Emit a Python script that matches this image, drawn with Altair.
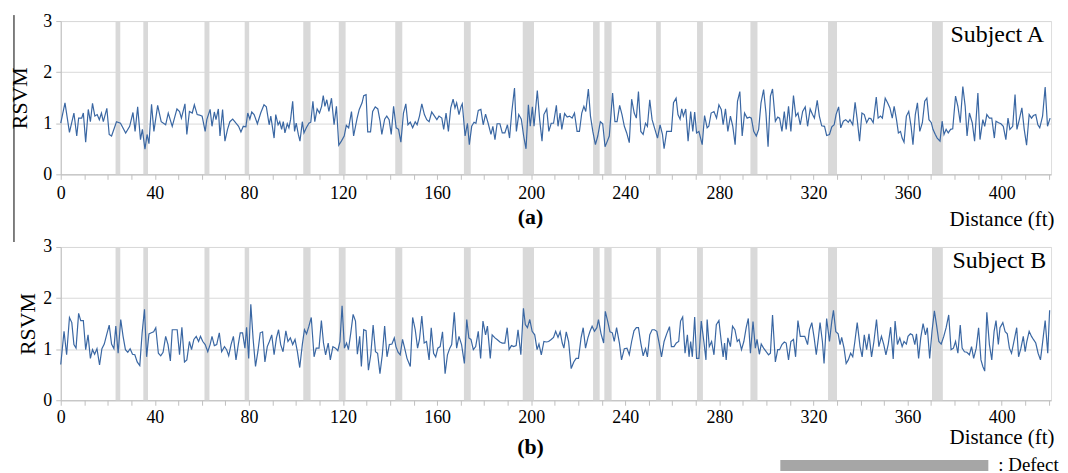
import altair as alt
import pandas as pd

# ---------------- data ----------------
# Subject A : distance (ft) and RSVM
a_x1 = [0, 1.8, 3.7, 5.6, 6.8, 7.6, 8.9, 9.6, 10.6, 11.7,
        12.6, 13.5, 14.5, 15.5, 16.4, 17.3, 18.1, 19.6, 20.6, 21.6,
        23.7, 25.4, 27.6, 29.3, 30.7, 31.6, 32.7, 33.9, 34.7, 35.8,
        36.7, 37.5, 38.6, 39.6, 41.2, 42.7, 44.6, 45.7, 47.4, 49.4,
        50.5, 51.3, 52.8, 53.6, 54.7, 55.9, 56.8, 58.0, 59.0, 60.1,
        61.4, 62.1, 63.5, 64.3, 65.3, 66.0, 67.0, 67.7, 68.8, 69.8,
        70.9, 71.9, 73.1, 74.5, 75.6, 76.6, 77.6, 78.7, 79.5, 80.4,
        81.2, 82.2, 83.6, 85.0, 86.4, 87.4, 88.6, 89.3, 90.7, 91.4,
        92.4, 93.1, 93.9, 94.6, 95.3, 96.3, 97.0, 97.7, 98.6, 99.4,
        100.1, 101.0, 101.7, 102.7, 103.4, 104.4, 105.5, 106.3, 107.2, 108.0,
        109.0, 110.0, 110.9, 111.6, 112.3, 113.1, 114.0, 115.1, 116.2, 117.2,
        118.2, 119.3, 120.5, 121.4, 122.4, 123.6, 124.5, 126.0, 126.9, 128.1,
        128.8, 129.8, 130.5, 131.7, 132.6, 133.7, 134.8, 135.8, 136.5, 137.7,
        138.6, 139.6, 140.5, 141.5]
a_y1 = [1.0, 1.4, 0.82, 1.2, 0.75, 1.1, 1.1, 1.2, 0.63, 1.27,
        1.03, 1.39, 1.14, 1.17, 1.07, 1.2, 1.03, 1.29, 0.78, 0.75,
        1.03, 1.0, 0.81, 0.94, 1.21, 0.84, 1.32, 0.68, 0.88, 0.49,
        0.78, 0.6, 1.37, 0.84, 1.35, 1.03, 0.97, 1.2, 0.94, 1.28,
        1.23, 1.1, 1.38, 0.78, 1.23, 1.2, 1.36, 1.17, 1.16, 1.14,
        0.84, 1.07, 1.27, 0.94, 1.22, 1.07, 1.28, 0.75, 1.27, 0.65,
        0.88, 1.03, 1.08, 1.0, 0.94, 0.83, 0.94, 0.93, 1.2, 1.08,
        1.22, 1.17, 0.99, 1.2, 1.36, 1.32, 0.97, 1.14, 0.71, 1.17,
        0.97, 1.03, 0.88, 1.03, 0.81, 0.99, 0.91, 1.07, 1.43, 0.84,
        1.0, 0.78, 0.65, 1.03, 0.81, 0.91, 1.0, 1.02, 1.43, 1.03,
        1.28, 1.2, 1.33, 1.54, 1.33, 1.46, 1.23, 1.49, 0.97, 1.33,
        0.57, 0.65, 0.75, 0.96, 0.91, 1.23, 0.75, 1.1, 1.27, 1.4,
        1.54, 1.56, 0.83, 0.83, 1.23, 1.32, 1.28, 1.03, 0.78, 1.08,
        1.14, 1.07, 0.78, 1.33]

a_x2 = [142.6, 143.6, 144.6, 145.7, 146.7, 147.6, 148.6, 149.6, 150.7, 151.5,
        152.5, 153.5, 154.6, 155.6, 156.6, 157.7, 158.9, 159.9, 160.8, 162.0,
        162.8, 163.8, 164.8, 165.8, 166.8, 167.6, 168.3, 169.3, 170.2, 170.7,
        171.9, 172.9, 173.7, 174.7, 175.7, 176.5, 177.5, 178.6, 179.6, 180.6,
        181.7, 182.9, 183.7, 184.6, 185.5, 186.7, 187.7, 188.8, 189.9, 190.8,
        191.7, 192.9, 193.7, 194.7, 195.8, 196.8, 197.8, 198.8, 199.6, 200.5,
        201.2, 202.6, 203.6, 204.6, 205.4, 206.6, 207.5, 208.5, 209.5, 210.7,
        211.4, 212.3, 213.0, 214.2, 215.3, 216.3, 217.4, 218.4, 219.5, 220.5,
        221.5, 222.4, 223.2, 224.3, 225.2, 226.2, 227.3, 228.3, 229.4, 230.4,
        231.4, 232.2, 233.2, 234.6, 235.6, 236.5, 237.6, 238.6, 239.6, 240.6,
        241.7, 242.7, 243.8, 244.7, 245.6, 246.6, 247.6, 248.6, 249.4, 250.4,
        251.4, 252.6, 253.7, 254.8, 255.8, 256.5, 257.6, 258.6, 259.6, 260.5,
        261.6, 262.4, 263.3, 264.0, 264.7, 265.7, 266.7, 267.8, 268.7, 269.5,
        270.3, 271.3, 272.7, 273.7, 274.8, 275.5, 276.5, 277.7, 278.8, 279.8,
        280.8, 281.6]
a_y2 = [0.91, 0.88, 0.63, 1.2, 1.38, 0.97, 1.02, 0.91, 1.03, 0.97,
        1.14, 1.38, 1.17, 1.07, 1.03, 1.22, 1.14, 1.07, 1.14, 1.1,
        0.88, 1.2, 0.84, 1.3, 1.47, 1.3, 1.4, 1.17, 1.33, 1.38,
        0.75, 1.0, 0.58, 0.94, 1.02, 1.0, 1.25, 1.27, 0.97, 1.18,
        1.0, 0.78, 0.94, 0.68, 0.99, 0.99, 0.81, 0.81, 0.97, 0.71,
        1.2, 1.69, 0.84, 1.17, 1.08, 0.75, 0.5, 1.36, 0.94, 1.32,
        0.94, 1.64, 1.07, 0.65, 1.17, 1.28, 0.84, 1.0, 1.0, 1.35,
        0.94, 1.2, 0.88, 1.19, 1.12, 1.14, 1.1, 1.2, 0.84, 0.84,
        1.2, 1.33, 1.23, 1.67, 1.14, 0.84, 0.58, 0.75, 1.03, 0.99,
        0.54, 0.63, 0.75, 1.59, 1.03, 1.03, 1.35, 1.17, 0.94, 0.81,
        0.62, 1.47, 1.2, 1.1, 1.62, 0.84, 0.78, 1.0, 0.94, 1.46,
        1.07, 0.88, 0.71, 0.97, 0.78, 0.5, 0.84, 0.84, 0.84, 1.4,
        1.49, 1.17, 1.08, 1.28, 1.14, 1.28, 0.65, 1.23, 0.84, 1.22,
        0.81, 0.84, 0.58, 1.15, 0.91, 0.94, 1.2, 1.23, 1.1, 1.36,
        1.27, 0.97]

a_x3 = [282.6, 283.6, 284.7, 285.7, 286.7, 287.7, 288.7, 289.7, 290.7, 291.8,
        292.8, 293.6, 294.6, 295.7, 296.7, 297.7, 298.8, 299.8, 300.7, 301.7,
        302.6, 303.8, 304.8, 305.6, 306.6, 307.6, 308.4, 309.4, 310.4, 311.5,
        312.5, 313.4, 314.4, 315.4, 316.5, 317.5, 318.6, 319.6, 320.4, 321.6,
        322.5, 323.5, 324.7, 325.6, 326.8, 327.8, 328.8, 329.6, 330.7, 331.6,
        332.7, 333.7, 334.8, 335.5, 336.7, 337.7, 338.6, 339.6, 340.6, 341.6,
        342.6, 343.6, 344.4, 345.4, 346.7, 347.5, 348.5, 349.3, 350.5, 351.5,
        352.5, 353.5, 354.3, 355.3, 356.1, 357.0, 357.7, 358.5, 359.5, 360.5,
        361.5, 362.3, 363.3, 364.2, 365.2, 366.3, 367.3, 368.2, 369.1, 370.1,
        370.8, 371.8, 372.6, 373.8, 374.7, 375.5, 376.4, 377.3, 378.3, 379.2,
        380.4, 381.4, 382.4, 383.5, 384.5, 385.3, 386.3, 387.5, 388.5, 389.9,
        390.8, 392.0, 392.8, 393.7, 394.8, 395.8, 396.9, 397.6, 398.7, 399.7,
        400.7, 401.8, 402.7, 403.5, 404.7, 405.7, 406.5, 407.5, 408.6, 409.6,
        410.6, 411.7, 412.7, 413.5, 414.5, 415.4, 416.2, 417.4, 418.5, 419.5,
        420.6]
a_y3 = [1.28, 0.84, 1.14, 0.94, 0.58, 1.43, 1.62, 0.75, 1.2, 1.1,
        1.12, 1.1, 0.84, 0.75, 0.88, 1.4, 1.66, 1.2, 0.54, 1.53,
        1.67, 1.04, 1.12, 1.1, 0.84, 1.23, 0.88, 1.33, 0.84, 1.54,
        1.14, 1.2, 0.97, 1.23, 1.32, 0.94, 1.28, 1.17, 1.1, 1.45,
        1.14, 0.95, 0.94, 0.76, 0.78, 0.93, 0.97, 1.17, 1.32, 0.91,
        1.04, 1.07, 1.02, 1.07, 0.97, 1.41, 1.07, 0.65, 1.2, 1.17,
        1.01, 1.1, 1.09, 1.01, 1.51, 1.1, 1.14, 1.1, 1.49, 1.4,
        1.3, 1.1, 1.33, 1.07, 0.81, 0.84, 0.71, 0.63, 1.14, 1.23,
        0.94, 0.58, 1.17, 1.4, 0.84, 1.01, 1.43, 1.49, 1.07, 1.01,
        0.88, 0.78, 0.71, 0.65, 1.04, 0.78, 0.88, 0.81, 0.88, 0.89,
        1.53, 1.33, 1.01, 1.72, 1.33, 0.75, 1.2, 1.01, 0.65, 1.59,
        0.68, 1.07, 0.94, 1.17, 1.1, 1.1, 0.71, 1.04, 1.01, 0.99,
        0.94, 0.68, 1.1, 0.88, 0.94, 1.56, 0.88, 1.07, 1.3, 0.88,
        0.57, 1.17, 1.1, 1.15, 1.17, 0.97, 0.91, 1.14, 1.71, 0.94,
        1.1]

# Subject B : distance (ft) and RSVM
b_x1 = [0, 1.4, 2.5, 3.7, 4.7, 5.6, 6.5, 7.6, 8.5, 9.6,
        10.6, 11.6, 12.6, 13.5, 14.4, 15.4, 16.5, 17.5, 18.5, 19.5,
        20.6, 21.6, 22.6, 23.4, 24.4, 25.5, 26.5, 27.5, 28.5, 29.5,
        30.5, 31.5, 32.5, 33.6, 34.6, 35.6, 36.5, 37.5, 38.5, 39.5,
        40.4, 41.5, 42.5, 43.5, 44.6, 45.6, 46.6, 47.4, 48.5, 49.5,
        50.5, 51.5, 52.6, 53.6, 54.7, 55.6, 56.6, 57.6, 58.6, 59.4,
        60.4, 61.4, 62.5, 63.5, 64.3, 65.3, 66.3, 67.4, 68.4, 69.6,
        70.5, 71.4, 72.4, 73.4, 74.5, 75.5, 76.3, 77.3, 78.3, 79.0,
        79.9, 80.8, 81.8, 82.8, 83.8, 84.8, 85.8, 86.8, 87.8, 88.7,
        89.7, 90.7, 91.7, 92.6, 93.5, 94.5, 95.7, 96.6, 97.6, 98.6,
        99.6, 100.6, 101.6, 102.7, 103.6, 104.5, 105.5, 106.5, 107.7, 108.6,
        109.8, 110.8, 111.7, 112.6, 113.7, 114.6, 115.7, 116.8, 117.8, 118.7,
        119.6, 120.6, 121.5, 122.3, 123.3, 124.3, 125.3, 126.1, 127.1, 127.8,
        128.8, 129.8, 130.8, 131.8, 132.8, 133.8, 134.7, 135.7, 136.7, 137.7,
        138.7, 139.7, 140.8, 141.8]
b_y1 = [0.7, 1.35, 0.89, 1.62, 1.52, 1.09, 1.02, 1.7, 1.56, 1.56,
        0.99, 1.28, 0.82, 0.99, 0.9, 1.01, 0.69, 1.01, 1.1, 1.28,
        1.47, 1.1, 1.01, 1.45, 0.92, 1.58, 1.25, 0.99, 0.94, 1.01,
        0.9, 0.89, 0.75, 0.68, 1.32, 1.78, 0.85, 1.3, 1.32, 1.34,
        1.42, 0.92, 0.87, 0.94, 1.25, 1.09, 0.77, 1.38, 1.38, 1.38,
        0.89, 1.43, 0.75, 0.79, 1.15, 0.99, 1.19, 1.25, 1.15, 1.25,
        1.15, 1.09, 0.95, 1.09, 1.25, 1.07, 1.09, 1.32, 0.95, 1.05,
        0.99, 0.87, 1.09, 1.25, 0.79, 1.1, 1.32, 1.32, 1.02, 1.43,
        0.82, 1.88, 1.19, 0.66, 0.95, 1.32, 1.34, 0.75, 1.05, 1.15,
        1.28, 0.89, 1.22, 1.38, 1.09, 0.95, 1.36, 1.15, 1.22, 1.09,
        1.19, 0.95, 0.64, 1.09, 1.38, 1.3, 1.45, 1.62, 0.85, 1.02,
        1.02, 1.56, 1.12, 0.89, 1.12, 0.79, 1.05, 1.02, 0.97, 1.15,
        1.85, 1.02, 1.12, 0.99, 1.32, 1.68, 1.55, 0.9, 1.25, 0.66,
        1.38, 1.36, 0.59, 0.89, 1.47, 0.95, 0.92, 0.52, 0.89, 1.45,
        0.85, 1.09, 1.1, 1.22]

b_x2 = [142.5, 143.4, 144.3, 145.3, 146.2, 147.2, 148.6, 149.6, 150.7, 151.7,
        152.5, 153.5, 154.5, 155.5, 156.6, 157.5, 158.5, 159.4, 160.3, 161.3,
        162.3, 163.4, 164.4, 165.4, 166.2, 167.3, 168.3, 169.3, 170.4, 171.6,
        172.6, 173.5, 174.4, 175.4, 176.4, 177.5, 178.5, 179.5, 180.6, 181.4,
        182.6, 183.4, 184.6, 185.5, 186.7, 187.7, 188.8, 189.8, 190.6, 191.6,
        192.6, 193.6, 194.4, 195.6, 196.7, 197.5, 198.4, 199.4, 200.4, 201.5,
        202.5, 203.3, 204.3, 205.4, 206.4, 207.4, 208.5, 209.5, 210.4, 211.4,
        212.3, 213.2, 213.9, 214.9, 215.9, 217.0, 218.1, 219.1, 220.1, 221.2,
        222.1, 223.1, 224.1, 225.0, 225.9, 226.9, 227.9, 228.6, 229.7, 230.8,
        231.5, 232.5, 233.5, 234.5, 235.3, 236.3, 237.5, 238.4, 239.6, 240.7,
        241.7, 242.7, 243.7, 244.7, 245.6, 246.6, 247.6, 248.6, 249.4, 250.4,
        251.4, 252.4, 253.4, 254.4, 255.4, 256.5, 257.6, 258.8, 259.6, 260.7,
        261.7, 262.7, 263.5, 264.4, 265.4, 266.4, 267.1, 267.8, 268.5, 269.5,
        270.3, 271.3, 272.3, 273.4, 274.3, 274.8, 275.7, 276.7, 277.7, 278.7,
        279.8, 280.8, 281.6]
b_y2 = [1.05, 0.94, 0.89, 1.19, 1.02, 0.82, 0.66, 1.62, 1.38, 1.02,
        1.19, 1.65, 1.12, 1.15, 0.79, 1.42, 0.92, 0.85, 1.02, 1.05,
        1.34, 0.52, 0.89, 1.02, 1.09, 1.72, 1.02, 1.25, 1.09, 0.72,
        1.58, 1.22, 1.19, 0.99, 1.05, 1.35, 0.82, 1.55, 1.28, 1.45,
        0.82, 1.28, 1.22, 1.19, 1.14, 1.12, 1.12, 1.42, 0.99, 1.07,
        1.05, 1.07, 1.38, 0.89, 1.8, 1.48, 1.42, 1.58, 1.35, 1.28,
        0.99, 1.1, 0.89, 1.15, 1.14, 1.15, 1.19, 1.23, 1.35, 1.23,
        1.34, 1.12, 1.02, 1.34, 1.15, 0.62, 0.75, 0.82, 0.82, 1.22,
        1.42, 1.02, 1.22, 1.35, 1.45, 1.35, 1.42, 1.58, 1.3, 1.12,
        1.74, 1.55, 1.34, 1.32, 1.15, 1.42, 1.12, 0.79, 1.01, 1.02,
        0.89, 1.15, 1.36, 1.42, 1.42, 1.12, 0.87, 1.01, 0.85, 1.28,
        1.38, 1.38, 1.35, 1.12, 0.85, 1.15, 1.3, 1.44, 1.05, 1.05,
        1.12, 1.15, 1.55, 1.63, 0.92, 1.28, 0.85, 1.15, 0.85, 1.63,
        0.82, 0.82, 1.55, 1.15, 0.79, 1.58, 1.05, 1.15, 0.89, 1.48,
        1.56, 1.15, 0.85]

b_x3 = [282.2, 282.9, 283.6, 284.7, 285.6, 286.6, 287.6, 288.4, 289.4, 290.4,
        291.4, 292.3, 293.2, 294.3, 295.3, 296.0, 297.0, 297.8, 298.8, 299.9,
        300.9, 301.7, 302.6, 303.8, 304.8, 305.6, 306.6, 307.6, 308.4, 309.4,
        310.4, 311.5, 312.4, 313.4, 314.4, 315.4, 316.3, 317.5, 318.3, 319.3,
        320.3, 321.2, 322.1, 322.8, 323.8, 324.5, 325.6, 326.8, 327.8, 328.5,
        329.5, 330.5, 331.3, 332.0, 333.0, 333.9, 334.8, 335.8, 336.7, 337.6,
        338.6, 339.8, 340.7, 341.6, 342.6, 343.6, 344.7, 345.7, 346.8, 347.8,
        348.9, 349.9, 350.8, 351.8, 352.8, 353.9, 354.7, 355.7, 356.7, 357.7,
        358.5, 359.5, 360.2, 361.2, 362.1, 363.1, 363.8, 364.7, 365.6, 366.6,
        367.6, 368.4, 369.4, 370.4, 371.4, 372.3, 373.3, 374.3, 375.4, 376.4,
        377.5, 378.5, 379.5, 380.4, 381.4, 382.4, 383.2, 384.2, 385.2, 386.3,
        387.2, 388.1, 389.2, 390.2, 391.2, 392.0, 392.8, 393.7, 394.8, 395.8,
        396.8, 397.6, 398.6, 399.3, 400.5, 401.5, 402.4, 403.3, 404.2, 405.4,
        406.4, 407.2, 408.2, 409.2, 410.0, 410.7, 411.7, 412.7, 413.5, 414.5,
        415.5, 416.5, 417.3, 418.5, 419.6, 420.4]
b_y3 = [1.12, 0.79, 1.22, 1.05, 1.45, 1.38, 1.15, 1.19, 0.99, 1.15,
        1.42, 1.6, 0.92, 1.54, 1.02, 1.19, 0.9, 1.1, 1.02, 0.95,
        0.89, 0.92, 1.67, 0.75, 0.99, 0.99, 1.09, 1.14, 1.12, 0.79,
        1.15, 1.19, 0.85, 1.56, 1.25, 1.25, 1.25, 1.09, 1.38, 1.52,
        1.22, 0.89, 1.22, 1.52, 1.15, 0.72, 1.6, 1.15, 1.55, 1.76,
        1.34, 1.3, 1.09, 1.23, 1.02, 0.72, 0.79, 0.92, 0.85, 1.15,
        1.52, 1.05, 0.85, 1.28, 0.99, 1.3, 0.85, 1.15, 1.58, 1.05,
        1.25, 1.09, 0.89, 1.1, 1.43, 0.81, 1.55, 1.09, 1.22, 1.05,
        1.15, 1.1, 1.25, 1.3, 1.28, 1.09, 1.3, 0.82, 1.22, 1.5,
        1.28, 1.42, 0.82, 1.35, 1.75, 1.48, 1.15, 1.1, 1.25, 1.42,
        1.67, 0.99, 1.02, 1.15, 0.92, 1.47, 1.02, 0.95, 0.94, 0.89,
        1.05, 0.82, 1.02, 1.42, 0.79, 0.66, 0.57, 1.72, 1.09, 0.79,
        1.35, 1.56, 1.09, 1.42, 1.52, 1.34, 1.3, 1.02, 0.92, 1.19,
        1.42, 0.85, 1.02, 1.25, 0.95, 1.15, 1.35, 1.25, 1.19, 1.12,
        0.92, 0.79, 1.09, 1.56, 0.92, 1.76]

# Defect zones (ft)
defect_start = [23.3, 35.1, 61.1, 78.2, 103.1, 118.2, 142.2, 171.4, 196.4,
                226.3, 231.1, 253.1, 270.5, 293.2, 326.2, 370.4]
defect_end = [25.3, 37.1, 63.2, 80.1, 106.2, 121.1, 145.2, 174.3, 201.2,
              229.1, 234.2, 255.1, 273.0, 296.2, 330.0, 375.0]

x_ticks = list(range(0, 421, 10))
y_ticks = [0, 1, 2, 3]
X_MAX = 421

# ---------------- styling ----------------
W, H = 995, 154
FONT = "Liberation Serif"
LINE = "#3a67a3"
BAND = "#d9d9d9"
AXIS = "#bfbfbf"

df_a = pd.DataFrame({"x": a_x1 + a_x2 + a_x3, "y": a_y1 + a_y2 + a_y3})
df_b = pd.DataFrame({"x": b_x1 + b_x2 + b_x3, "y": b_y1 + b_y2 + b_y3})
defects = pd.DataFrame({"start": defect_start, "end": defect_end})
one = pd.DataFrame({"k": [0]})


def panel(df, subject, tag, title_pad, label_pad, dist_y, tag_y, subj_x, extra):
    xsc = alt.Scale(domain=[0, X_MAX], nice=False, zero=False)
    ysc = alt.Scale(domain=[0, 3], nice=False)
    xaxis = alt.Axis(values=x_ticks,
                     labelExpr="datum.value % 40 == 0 ? datum.label : ''",
                     grid=False, tickSize=5, tickColor=AXIS, domainColor=AXIS,
                     labelColor="black", labelFontSize=18, labelFont=FONT,
                     labelPadding=label_pad, labelFlush=False, labelOverlap=False,
                     title="Distance (ft)", titleFont=FONT, titleFontSize=21,
                     titleFontWeight="normal", titleColor="black",
                     titleAlign="right", titleBaseline="middle",
                     titleX=W + 3, titleY=dist_y)
    yaxis = alt.Axis(values=y_ticks, grid=True, gridColor=BAND, tickSize=5,
                     tickColor=AXIS, domainColor=AXIS, labelColor="black",
                     labelFontSize=18, labelFont=FONT, labelPadding=4,
                     title="RSVM", titleFont=FONT, titleFontSize=22,
                     titleFontWeight="normal", titleColor="black",
                     titlePadding=title_pad)
    bands = alt.Chart(defects).mark_rect(color=BAND).encode(
        x=alt.X("start:Q", scale=xsc, axis=xaxis),
        x2="end:Q",
        y=alt.value(0), y2=alt.value(H))
    line = alt.Chart(df).mark_line(color=LINE, strokeWidth=1.2).encode(
        x=alt.X("x:Q", scale=xsc, axis=xaxis),
        y=alt.Y("y:Q", scale=ysc, axis=yaxis))
    subj = alt.Chart(one).mark_text(align="right", baseline="middle",
                                    fontSize=24, font=FONT, color="black").encode(
        x=alt.value(subj_x), y=alt.value(14), text=alt.value(subject))
    tag_t = alt.Chart(one).mark_text(align="center", baseline="middle",
                                     fontSize=22, font=FONT, fontWeight="bold",
                                     color="black").encode(
        x=alt.value(472), y=alt.value(H + tag_y), text=alt.value(tag))
    return alt.layer(bands, line, subj, tag_t, *extra).properties(width=W, height=H)


artifact = alt.Chart(one).mark_rule(color="black", strokeWidth=1).encode(
    x=alt.value(-47), y=alt.value(-6), y2=alt.value(222))

legend_bar = alt.Chart(one).mark_rect(color="#a6a6a6").encode(
    x=alt.value(723), x2=alt.value(932), y=alt.value(214), y2=alt.value(225))
legend_txt = alt.Chart(one).mark_text(align="left", baseline="middle",
                                      fontSize=19, font=FONT, color="black").encode(
    x=alt.value(942), y=alt.value(219), text=alt.value(": Defect"))

pa = panel(df_a, "Subject A", "(a)", 11, 5, 45, 43, W - 7, [artifact])
pb = panel(df_b, "Subject B", "(b)", 3, 3, 37, 47, W - 5, [legend_bar, legend_txt])

chart = alt.vconcat(pa, pb, spacing=-6).properties(
    padding={"left": 0, "top": 2, "right": 0, "bottom": 0}
).configure_view(stroke=AXIS).configure(font=FONT)

chart.save("out.html", embed_options={"renderer": "svg", "actions": False})
